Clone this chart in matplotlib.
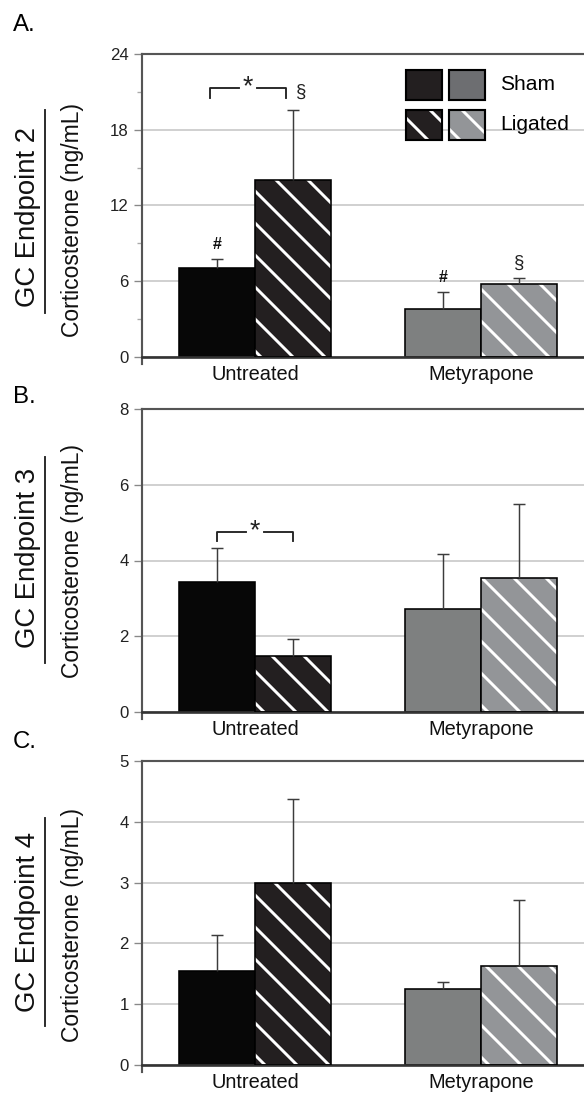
import matplotlib.pyplot as plt
import numpy as np
from matplotlib.lines import Line2D
from matplotlib.patches import Rectangle

plt.rcParams["font.family"] = ["Liberation Sans", "DejaVu Sans"]
plt.rcParams["hatch.linewidth"] = 1.1

groups = ["Untreated", "Metyrapone"]

# corticosterone (ng/mL), mean and upper SEM per group
ep2_sham = [7.07, 3.80]
ep2_sham_err = [0.66, 1.35]
ep2_ligated = [14.0, 5.78]
ep2_ligated_err = [5.54, 0.50]

ep3_sham = [3.44, 2.73]
ep3_sham_err = [0.88, 1.43]
ep3_ligated = [1.48, 3.55]
ep3_ligated_err = [0.45, 1.93]

ep4_sham = [1.55, 1.25]
ep4_sham_err = [0.59, 0.11]
ep4_ligated = [3.00, 1.63]
ep4_ligated_err = [1.37, 1.08]

sham_colors = ["#070707", "#7e8080"]
ligated_colors = ["#231f20", "#939598"]
STRIPES = "\\\\"

W, H, DPI = 584, 1099, 192
fig = plt.figure(figsize=(W / DPI, H / DPI), dpi=DPI)


def px(x, y):
    return x / W, 1 - y / H


def draw_panel(ax, sham, sham_err, ligated, ligated_err, ymax, step, minor=False):
    x = np.arange(len(groups))
    w = 0.336
    ax.set_xlim(-0.5, 1.5)
    ax.set_ylim(0, ymax)
    ax.set_yticks(np.arange(0, ymax + step / 2, step))
    if minor:
        ax.set_yticks(np.arange(step / 2, ymax, step), minor=True)
    ax.set_xticks(x)
    ax.set_xticklabels(groups)
    ax.yaxis.grid(True, color="#c6c6c6", linewidth=0.6)
    ax.set_axisbelow(True)

    ax.bar(x - w / 2, sham, w, color=sham_colors, edgecolor="black",
           linewidth=0.6, zorder=2)
    # white stripes first, black outline on top
    ax.bar(x + w / 2, ligated, w, color=ligated_colors, edgecolor="white",
           linewidth=0, hatch=STRIPES, zorder=2)
    ax.bar(x + w / 2, ligated, w, facecolor="none", edgecolor="black",
           linewidth=0.6, zorder=3)

    # upper error bars only
    for xs, ys, es in [(x - w / 2, sham, sham_err), (x + w / 2, ligated, ligated_err)]:
        tops = np.array(ys) + np.array(es)
        ax.vlines(xs, ys, tops, color="#3c3c3c", linewidth=0.55, zorder=4)
        ax.plot(xs, tops, ls="none", marker="_", markersize=4.6,
                markeredgewidth=0.55, color="#3c3c3c", zorder=4)

    ax.spines["right"].set_visible(False)
    ax.spines["top"].set_color("#555555")
    ax.spines["top"].set_linewidth(0.8)
    ax.spines["bottom"].set_color("#333333")
    ax.spines["bottom"].set_linewidth(1.0)
    ax.spines["left"].set_color("#555555")
    ax.spines["left"].set_linewidth(0.8)
    ax.spines["left"].set_bounds(-ymax * 0.022, ymax)

    ax.tick_params(axis="y", which="major", length=3, width=0.5, color="#888888",
                   labelsize=6.3, pad=2, labelcolor="#222222")
    ax.tick_params(axis="y", which="minor", length=1.7, width=0.5, color="#aaaaaa")
    ax.tick_params(axis="x", length=0, labelsize=7.5, pad=3, labelcolor="#111111")
    return x, w


def bracket(ax, x0, x1, ytop, ybot, gap=0.04):
    xm = (x0 + x1) / 2
    kw = dict(color="#222222", linewidth=0.7, zorder=5)
    ax.plot([x0, x0, xm - gap], [ybot, ytop, ytop], **kw)
    ax.plot([xm + gap, x1, x1], [ytop, ytop, ybot], **kw)
    ax.text(xm, ytop, "*", ha="center", va="center", fontsize=10, color="#222222")


panels = [
    ("A.", "GC Endpoint 2", 357, 303, ep2_sham, ep2_sham_err, ep2_ligated, ep2_ligated_err, 24, 6, True, 14, 217, 110, 313),
    ("B.", "GC Endpoint 3", 712, 303, ep3_sham, ep3_sham_err, ep3_ligated, ep3_ligated_err, 8, 2, False, 386, 558, 457, 663),
    ("C.", "GC Endpoint 4", 1065, 304, ep4_sham, ep4_sham_err, ep4_ligated, ep4_ligated_err, 5, 1, False, 731, 922, 818, 1026),
]

axes = []
for (letter, endpoint, bottom, height, s, se, l, le, ymax, step, minor,
     letter_y, label_y, ul0, ul1) in panels:
    left, b = px(142, bottom)
    ax = fig.add_axes([left, b, 452 / W, height / H])
    x, w = draw_panel(ax, s, se, l, le, ymax, step, minor)
    axes.append((ax, x, w))

    fig.text(*px(13, letter_y), letter, ha="left", va="top", fontsize=9)
    fig.text(*px(28, label_y), endpoint, rotation=90, ha="center", va="center",
             fontsize=10.3, color="#111111")
    fig.add_artist(Line2D([45 / W, 45 / W], [1 - ul0 / H, 1 - ul1 / H],
                          transform=fig.transFigure, color="#222222", linewidth=0.7))
    fig.text(*px(72, label_y + 3), "Corticosterone (ng/mL)", rotation=90,
             ha="center", va="center", fontsize=8.6, color="#111111")

# significance marks
ax, x, w = axes[0]
bracket(ax, x[0] - w / 2 - 0.03, x[0] + w / 2 - 0.03, 21.33, 20.54)
ax.text(x[0] + w / 2 + 0.035, 21.0, "§", ha="center", va="center", fontsize=7, color="#222222")
for i in range(2):
    ax.text(x[i] - w / 2, ep2_sham[i] + ep2_sham_err[i] + 1.15, "#", ha="center",
            va="center", fontsize=6, fontweight="bold", color="#111111")
ax.text(x[1] + w / 2, ep2_ligated[1] + ep2_ligated_err[1] + 1.15, "§", ha="center",
        va="center", fontsize=7, color="#222222")

ax, x, w = axes[1]
bracket(ax, x[0] - w / 2, x[0] + w / 2, 4.76, 4.52)

# legend swatches
swatches = [
    (406, 70, "#231f20", None), (449, 70, "#6d6e71", None),
    (406, 110, "#231f20", STRIPES), (449, 110, "#939598", STRIPES),
]
for sx, sy, col, hatch in swatches:
    x0, y0 = px(sx, sy + 30)
    if hatch:
        fig.add_artist(Rectangle((x0, y0), 36 / W, 30 / H, transform=fig.transFigure,
                                 facecolor=col, edgecolor="white", linewidth=0, hatch=hatch))
        fig.add_artist(Rectangle((x0, y0), 36 / W, 30 / H, transform=fig.transFigure,
                                 facecolor="none", edgecolor="black", linewidth=0.8))
    else:
        fig.add_artist(Rectangle((x0, y0), 36 / W, 30 / H, transform=fig.transFigure,
                                 facecolor=col, edgecolor="black", linewidth=0.8))
fig.text(*px(500, 85), "Sham", ha="left", va="center", fontsize=7.9)
fig.text(*px(500, 125), "Ligated", ha="left", va="center", fontsize=7.9)

fig.savefig("out.png", dpi=DPI, facecolor="white")
